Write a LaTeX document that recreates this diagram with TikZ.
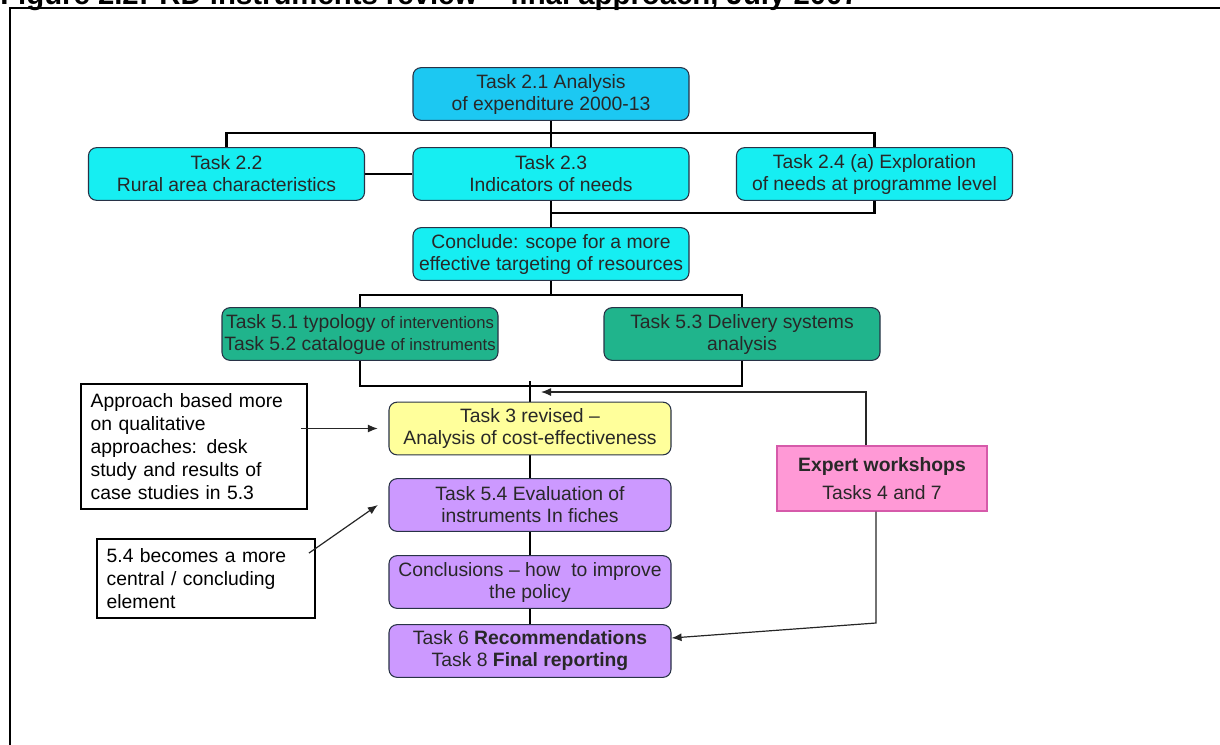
\documentclass[tikz,border=0pt]{standalone}
\usepackage{fontspec}
\setmainfont{Liberation Sans}
\usetikzlibrary{arrows.meta}

\pgfdeclarelayer{background}
\pgfsetlayers{background,main}

\definecolor{skyblue}{RGB}{28,200,242}
\definecolor{aqua}{RGB}{22,238,242}
\definecolor{seagreen}{RGB}{32,180,140}
\definecolor{paleyellow}{RGB}{255,255,155}
\definecolor{lilac}{RGB}{204,153,255}
\definecolor{pinkbox}{RGB}{255,153,214}
\definecolor{pinkline}{RGB}{214,90,170}
\definecolor{boxline}{RGB}{40,50,70}
\definecolor{boxtext}{RGB}{40,40,40}

\begin{document}
\begin{tikzpicture}[%
    x = 0.75pt, y = -0.75pt,
    > = {Latex[length = 7.5pt, width = 6pt]},
    task/.style = {draw = boxline, line width = 0.8pt, rounded corners = 6pt, align = center, text = boxtext, inner sep = 1pt, font = \fontsize{14.5}{16.5}\selectfont, minimum width = 207pt, minimum height = 39.5pt},
    column/.style = {task, minimum width = 211.5pt},
    note/.style = {draw = black, line width = 0.9pt, align = left, inner xsep = 7.25pt, font = \fontsize{14.5}{17.2}\selectfont},
    link/.style = {line width = 2.2pt},
    hint/.style = {->, line width = 0.9pt, draw = black!85}]

    \useasboundingbox (0, 0) rectangle (1220, 744);

    % caption and frame, cut by the page
    \node[anchor = base west, inner sep = 0pt, font = \bfseries\fontsize{22}{26}\selectfont] (title) at (0, 4) {Figure 2.2: RD instruments review – final approach, July 2007};
    \draw[line width = 1.6pt] (10, 800) -- (10, 8) -- (1300, 8);

    % task boxes
    \node[task, fill = skyblue] (t21) at (551, 94) {Task 2.1 Analysis\\of expenditure 2000-13};
    \node[task, fill = aqua] (t22) at (226.5, 174) {Task 2.2\\Rural area characteristics};
    \node[task, fill = aqua] (t23) at (551, 174) {Task 2.3\\Indicators of needs};
    \node[task, fill = aqua] (t24) at (874.5, 174) {Task 2.4 (a) Exploration\\of needs at programme level};
    \node[task, fill = aqua] (concl) at (551, 254) {Conclude: scope for a more\\effective targeting of resources};
    \node[task, fill = seagreen] (t51) at (360, 334) {Task 5.1 typology {\fontsize{12.5}{16.5}\selectfont of interventions}\\Task 5.2 catalogue {\fontsize{12.5}{16.5}\selectfont of instruments}};
    \node[task, fill = seagreen] (t53) at (742, 334) {Task 5.3 Delivery systems\\analysis};
    \node[column, fill = paleyellow] (t3) at (530, 428.5) {Task 3 revised –\\Analysis of cost-effectiveness};
    \node[column, fill = lilac] (t54) at (530, 505) {Task 5.4 Evaluation of\\instruments In fiches};
    \node[column, fill = lilac] (concls) at (530, 582) {Conclusions – how\ \ to improve\\the policy};
    \node[column, fill = lilac] (t6) at (530, 651) {Task 6 \textbf{Recommendations}\\Task 8 \textbf{Final reporting}};
    \node[draw = pinkline, fill = pinkbox, line width = 1pt, align = center, text = boxtext, font = \fontsize{14.5}{16.5}\selectfont, minimum width = 157.5pt, minimum height = 48.75pt] (expert) at (882, 478.5) {\textbf{Expert workshops}\\[5pt]Tasks 4 and 7};

    % side notes
    \node[note, text width = 155pt, minimum height = 93.75pt] (approach) at (194, 446.5) {Approach based more\\on qualitative\\approaches: desk\\study and results of\\case studies in 5.3};
    \node[note, text width = 149pt, minimum height = 59.25pt] (becomes) at (206, 578.5) {5.4 becomes a more\\central / concluding\\element};

    % tree lines
    \begin{pgfonlayer}{background}
        \coordinate (bus1) at (551, 133);
        \coordinate (bus2) at (551, 213);
        \coordinate (bus3) at (551, 295);
        \coordinate (bus4) at (530, 386);
        \coordinate (stub) at (530, 381);
        \draw[link] (t22.north) |- (bus1) -| (t24.north);
        \draw[link] (t21) -- (t23);
        \draw[link] (t22) -- (t23);
        \draw[link] (t24.south) |- (bus2);
        \draw[link] (t23) -- (concl);
        \draw[link] (concl) -- (bus3);
        \draw[link] (t51.north) |- (bus3) -| (t53.north);
        \draw[link] (t51.south) |- (bus4) -| (t53.south);
        \draw[link] (stub) -- (t3);
        \draw[link] (t3) -- (t54);
        \draw[link] (t54) -- (concls);
        \draw[link, line width = 1.6pt] (concls) -- (t6);
    \end{pgfonlayer}

    % arrows
    \coordinate (fbtip) at (541, 392);
    \coordinate (fbbend) at (876, 623);
    \draw[hint] ([xshift = -12pt]expert.north) |- (fbtip);
    \draw[hint] ([xshift = -4.5pt]expert.south) -- (fbbend) -- ([yshift = 9.75pt]t6.east);
    \draw[hint] ([xshift = -5pt]approach.east |- t3.west) -- ([xshift = -8pt]t3.west);
    \draw[hint] ([xshift = -5pt, yshift = -11pt]becomes.north east) -- ([xshift = -8pt]t54.west);
\end{tikzpicture}
\end{document}
